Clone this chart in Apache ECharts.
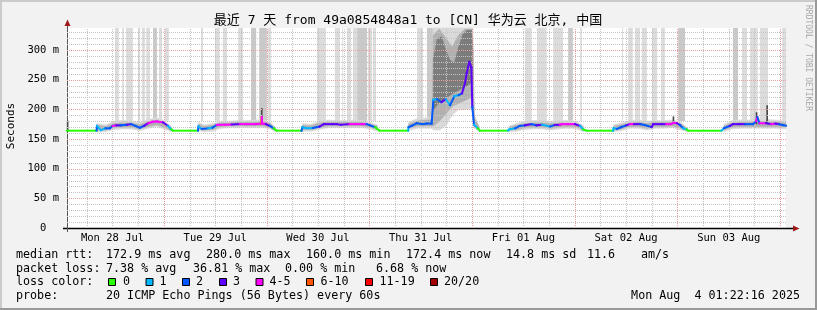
<!DOCTYPE html>
<html><head><meta charset="utf-8">
<script src="https://cdn.jsdelivr.net/npm/echarts@6/dist/echarts.min.js"></script>
<style>html,body{margin:0;padding:0;background:#f2f2f2}#c{width:817px;height:310px}</style>
</head><body><div id="c"></div>
<script>
// ---- axis / tick data (hours since start: Mon Jul 28 01:22:16) ----
const dayLabels = ['Mon 28 Jul','Tue 29 Jul','Wed 30 Jul','Thu 31 Jul','Fri 01 Aug','Sat 02 Aug','Sun 03 Aug'];
const dayNoonHours = [10.63, 34.63, 58.63, 82.63, 106.63, 130.63, 154.63];
const midnightHours = [22.63, 46.63, 70.63, 94.63, 118.63, 142.63, 166.63];
const sixHourLines = [4.63,10.63,16.63,28.63,34.63,40.63,52.63,58.63,64.63,76.63,82.63,88.63,100.63,106.63,112.63,124.63,130.63,136.63,148.63,154.63,160.63];
const yMajorLines = [50,100,150,200,250,300];
const yMinorLines = [10,20,30,40,60,70,80,90,110,120,130,140,160,170,180,190,210,220,230,240,260,270,280,290,310,320,330];

// ---- median rtt (ms) with loss class (0:0,1:1,2:2,3:3,4:4-5,5:6-10,6:11-19,7:20/20) ----
const medT = [0,6.9,7.0,7.9,9.0,10.0,10.7,11.5,12.5,14,15,16,17,18,19,20,21,22.4,23.6,24.4,24.8,
 30.6,30.7,31.5,33,34,35,35.5,37,38.5,40.4,42,44,45.4,45.5,45.6,46.5,47.4,48.3,49,
 54.8,55,56,57.5,59,60,62,63,64,66,67.5,69,70,70.8,72,73,
 79.7,79.8,80.5,81.7,83,84,85.2,85.6,86.5,87.5,88.5,89.5,90.5,91.5,92.3,93,93.4,94.0,94.5,94.7,95.1,96,96.5,
 103,103.3,104.7,105.8,107,108.5,109.7,111,112.9,114,115.2,115.6,117,118.7,119.9,120.6,121.4,
 127.6,127.7,128.5,129.5,130.7,131.5,132.5,134,135,136.6,137,139,140,141,141.7,142.5,143.2,144,144.8,145.2,
 152.9,153.5,154.9,155.6,157,158.5,160.3,161,161.3,161.8,163.3,164.5,165.5,166.4,167.2,168];
const medV = [164,164,172,165,168,168,172,173,173,174,175,172,169,172,176.5,179,179.5,178,172,166,164,
 164,171,167,168,169,173.6,174,174,174.5,175,175,175,176,187,176,175,172,168,164,
 164,169.7,168,168.5,171,175,175,175,174,175,175,175,175,173,170,164,
 164,170,172,176.5,175,176,176,216,217,212,217,207,222,224,227,244,261,280,270,204,174,168,164,
 164,166,168,172,173,175,173,174,171,173.6,174,175,175,175,172,166,164,
 164,168,167,170,173,175,175,175,173.6,170,175,175,175,175,177,176.5,173.6,168,166,164,
 164,168,172,175,175,175,175,180,187,176.5,176.5,175,176,175,173.6,172.4];
const medLoss = [0,0,2,1,1,2,2,4,3,2,3,2,2,2,3,4,4,4,3,1,0,
 0,2,1,2,1,2,4,4,4,3,4,4,4,5,4,4,3,2,0,
 0,2,1,1,2,3,3,3,3,3,4,4,4,2,2,0,
 0,1,2,2,2,2,2,2,1,2,3,1,2,1,2,3,3,3,3,3,2,1,0,
 0,1,1,2,2,3,2,3,1,2,3,4,4,4,3,1,0,
 0,1,1,2,2,3,4,3,2,2,3,3,3,4,4,4,3,2,1,0,
 0,1,2,3,3,3,2,2,4,2,4,3,4,3,2,2];
const lossColors = ['#26ff00','#00b8ff','#0059ff','#5e00ff','#ff00ff','#ff5500','#ff0000','#a10000'];
const lossLabels = ['0','1','2','3','4-5','6-10','11-19','20/20'];

// ---- smoke (ms) ----
const smokeT = [7,9,11,13,15,17,19,21,23,24.5,24.8,
 30.7,32,34,36,38,40,42,44,46,47.5,48.7,49,
 55,57,59,61,63,65,67,69,70.8,72.5,73,
 79.8,81.7,83,84.5,85.4,85.6,87,88.5,90,91.5,93,94.5,94.8,95.2,96.3,96.5,
 103.3,105,107,109,111,113,115,117,119,120.8,121.4,
 127.7,129.5,131.5,133.5,135.5,137.5,139.5,141.5,143.5,145,145.2,
 153.5,155.5,157.5,159.5,161.5,163.5,165.5,168];
const smokeOuterLo = [162,162,166,167,167,164,168,171,166,162,null,
 164,162,163,168,169,169,169,169,169,167,162,null,
 163,163,166,169,169,169,169,169,167,163,null,
 164,168,168,168,168,165,165,172,190,200,200,200,195,168,162,null,
 162,163,166,167,167,165,167,168,167,162,null,
 162,164,168,168,165,168,168,169,165,162,null,
 162,167,168,168,168,168,168,167];
const smokeOuterHi = [176,174,180,181,180,178,183,186,180,170,null,
 178,174,176,180,180,181,181,182,182,178,170,null,
 176,175,180,182,181,181,182,181,178,174,null,
 178,184,185,186,188,337,337,337,337,337,337,337,337,190,172,null,
 172,176,180,181,181,180,181,181,180,172,null,
 174,177,181,182,180,181,181,182,178,168,null,
 175,181,182,182,185,183,182,180];
const smokeInnerLo = [165,165,169,170,170,167,171,174,169,164,null,
 167,165,166,171,172,172,172,172,172,169,164,null,
 166,166,169,172,172,172,172,172,170,166,null,
 168,172,172,172,172,172,180,192,205,210,215,220,210,170,165,null,
 165,166,169,170,170,168,170,171,170,165,null,
 165,167,171,171,168,171,171,172,168,164,null,
 165,170,171,171,171,171,171,170];
const smokeInnerHi = [173,171,176,177,177,174,179,182,176,168,null,
 175,171,173,177,177,178,178,178,179,176,167,null,
 173,172,177,178,178,178,178,178,175,171,null,
 175,180,181,182,183,325,335,320,305,325,335,335,300,185,170,null,
 170,173,176,177,177,176,177,177,176,169,null,
 171,174,177,178,176,178,178,178,175,167,null,
 172,177,178,178,180,179,178,177];
const darkT  = [85.6,86.5,87.5,88.5,89.5,90.5,91.5,92.5,93.5,94.5,94.8];
const darkLo = [198,208,214,218,224,228,232,236,240,245,245];
const darkHi = [285,318,322,300,282,278,305,326,333,333,310];
const spikeT  = [0.15,45.5,141.7,161.1,163.6];
const spikeLo = [162,175,175,175,175];
const spikeHi = [181,202,188,195,207];

// ---- clipped smoke columns reaching the top ----
const stripeStart = [11.2,12.9,13.8,16.6,17.5,18.5,20.1,21.5,22.9,31.3,34.6,36.4,40.0,43.0,44.9,47.0,58.4,62.6,64.3,65.4,66.8,67.8,70.3,71.5,81.8,84.1,107.0,109.8,113.6,117.1,119.9,129.7,131.1,132.7,134.3,136.7,138.8,142.8,155.6,157.7,159.6,161.9,167.1];
const stripeEnd = [12.1,13.3,15.4,17.1,18.2,19.4,21.0,22.2,23.8,31.8,35.7,37.4,41.1,44.2,46.7,47.7,60.5,63.8,64.5,66.4,67.8,70.1,71.3,72.2,83.2,85.5,108.6,112.1,115.9,118.2,120.3,129.9,132.2,133.9,135.5,137.9,139.7,144.4,156.8,158.9,161.4,163.8,168];
const stripeShade = [0,0,0,0,0,0,1,0,0, 0,0,0,0,1,1,0, 0,0,0,0,0,1,0,0, 0,1, 0,0,0,1,0, 0,0,0,0,0,0,1, 1,0,0,0,0];
const STRIPE_BASE = 180;

const X_MIN = 0, X_MAX = 168, Y_MIN = 0, Y_MAX = 337;
const MONO = '"DejaVu Sans Mono", monospace';

function bandData(T, Lo, Hi){
  const out = [];
  for (let i = 0; i < T.length - 1; i++) {
    if (Lo[i] == null || Lo[i+1] == null) continue;
    out.push([T[i], T[i+1], Lo[i], Hi[i], Lo[i+1], Hi[i+1]]);
  }
  return out;
}
function bandSeries(data, color){
  return {type:'custom', coordinateSystem:'cartesian2d', data, silent:true, animation:false,
    encode:{x:[0,1], y:[2,3,4,5]},
    renderItem:(p, api) => {
      const a = api.coord([api.value(0), api.value(2)]), b = api.coord([api.value(1), api.value(4)]),
            c = api.coord([api.value(1), api.value(5)]), d = api.coord([api.value(0), api.value(3)]);
      return {type:'polygon', shape:{points:[a,b,c,d]}, style:{fill:color, stroke:color, lineWidth:0.6}};
    }};
}
function hLines(vals, color){
  return {type:'custom', coordinateSystem:'cartesian2d', data:vals.map(v=>[v]), silent:true, animation:false,
    encode:{y:0},
    renderItem:(p, api) => {
      const a = api.coord([X_MIN, api.value(0)]), b = api.coord([X_MAX, api.value(0)]);
      const y = Math.round(a[1]) + 0.5;
      return {type:'line', shape:{x1:a[0], y1:y, x2:b[0], y2:y}, style:{stroke:color, lineWidth:1, lineDash:[1,1]}};
    }};
}
function vLines(vals, color){
  return {type:'custom', coordinateSystem:'cartesian2d', data:vals.map(v=>[v]), silent:true, animation:false,
    encode:{x:0},
    renderItem:(p, api) => {
      const a = api.coord([api.value(0), Y_MIN]), b = api.coord([api.value(0), Y_MAX]);
      const x = Math.round(a[0]) + 0.5;
      return {type:'line', shape:{x1:x, y1:a[1], x2:x, y2:b[1]}, style:{stroke:color, lineWidth:1, lineDash:[1,1]}};
    }};
}

const stripeData = stripeStart.map((s,i)=>[s, stripeEnd[i], stripeShade[i]]);
const medData = [];
for (let i = 0; i < medT.length - 1; i++) medData.push([medT[i], medT[i+1], medV[i], medV[i+1], medLoss[i+1]]);
const spikeData = spikeT.map((t,i)=>[t, spikeLo[i], spikeHi[i]]);

const chart = echarts.init(document.getElementById('c'), null, {renderer:'canvas'});
const textEl = (text, x, y, opts={}) => ({type:'text', x, y, silent:true, rotation: opts.rotation || 0,
  style:{text, font: (opts.size||11.7)+'px '+MONO+(opts.cjk?', "Noto Sans CJK SC"':''), fill: opts.color||'#000',
    textAlign: opts.align||'left', textVerticalAlign:'middle'}});

const footer = [
  textEl('median rtt:', 16, 255), textEl('172.9 ms avg', 106, 255), textEl('280.0 ms max', 206, 255),
  textEl('160.0 ms min', 306, 255), textEl('172.4 ms now', 406, 255), textEl('14.8 ms sd', 506, 255),
  textEl('11.6', 587, 255), textEl('am/s', 641, 255),
  textEl('packet loss:', 16, 268.5), textEl('7.38 % avg', 106, 268.5), textEl('36.81 % max', 193, 268.5),
  textEl('0.00 % min', 285, 268.5), textEl('6.68 % now', 376, 268.5),
  textEl('loss color:', 16, 282.3),
  textEl('probe:', 16, 296), textEl('20 ICMP Echo Pings (56 Bytes) every 60s', 106, 296),
  textEl('Mon Aug  4 01:22:16 2025', 800, 296, {align:'right'})
];
const legendSqX = [108.5,146,182.5,219.5,256,306.5,365.5,430.5];
const legendTxX = [123,159.5,196,233,269.5,320.5,379.5,444];
lossLabels.forEach((l,i)=>{
  footer.push({type:'rect', silent:true, shape:{x:legendSqX[i], y:278.5, width:7, height:7}, style:{fill:lossColors[i], stroke:'#000', lineWidth:1}});
  footer.push(textEl(l, legendTxX[i], 282.3));
});

const decor = [
  {type:'rect', silent:true, shape:{x:0,y:0,width:817,height:2}, style:{fill:'#cbcbcb'}},
  {type:'rect', silent:true, shape:{x:0,y:0,width:2,height:310}, style:{fill:'#cbcbcb'}},
  {type:'rect', silent:true, shape:{x:0,y:308,width:817,height:2}, style:{fill:'#999'}},
  {type:'rect', silent:true, shape:{x:815,y:0,width:2,height:310}, style:{fill:'#999'}},
  {type:'line', silent:true, shape:{x1:63, y1:228.5, x2:794, y2:228.5}, style:{stroke:'#000', lineWidth:1.5}},
  {type:'line', silent:true, shape:{x1:67.5, y1:232, x2:67.5, y2:25}, style:{stroke:'#555', lineWidth:1}},
  {type:'polygon', silent:true, shape:{points:[[64.5,26],[70.5,26],[67.5,19.5]]}, style:{fill:'#a01818'}},
  {type:'polygon', silent:true, shape:{points:[[793,225.5],[793,231.5],[799.5,228.5]]}, style:{fill:'#a01818'}},
  textEl('最近 7 天 from 49a0854848a1 to [CN] 华为云 北京, 中国', 408, 21, {size:13, align:'center', cjk:true}),
  textEl('Seconds', 11, 126, {size:11, align:'center', rotation:Math.PI/2}),
  textEl('RRDTOOL / TOBI OETIKER', 808, 5, {size:8, color:'#a8a8a8', rotation:-Math.PI/2})
];

chart.setOption({
  animation:false,
  backgroundColor:'#f2f2f2',
  grid:{left:67, top:28, width:719, height:200, show:true, backgroundColor:'#fff', borderWidth:0, containLabel:false},
  xAxis:{type:'value', min:X_MIN, max:X_MAX, axisLine:{show:false}, axisTick:{show:false}, splitLine:{show:false},
    axisLabel:{customValues: dayNoonHours, margin:5, color:'#000', fontFamily:MONO, fontSize:10.5,
      formatter:(v)=>{ const i = dayNoonHours.findIndex(h=>Math.abs(h-v)<0.01); return i>=0?dayLabels[i]:''; }}},
  yAxis:{type:'value', min:Y_MIN, max:Y_MAX, interval:50, axisLine:{show:false}, axisTick:{show:false}, splitLine:{show:false},
    axisLabel:{margin:8, color:'#000', fontFamily:MONO, fontSize:10.5, showMaxLabel:false,
      formatter:(v)=> v===0 ? '0  ' : (v%50===0 ? v+' m' : '')}},
  series:[
    {type:'custom', coordinateSystem:'cartesian2d', data:stripeData, silent:true, animation:false, encode:{x:[0,1]},
      renderItem:(p, api)=>{
        const a = api.coord([api.value(0), Y_MAX]), b = api.coord([api.value(1), STRIPE_BASE]);
        return {type:'rect', shape:{x:a[0], y:a[1], width:Math.max(1, b[0]-a[0]), height:b[1]-a[1]},
          style:{fill: api.value(2) ? '#c9c9c9' : '#dcdcdc'}};
      }},
    bandSeries(bandData(smokeT, smokeOuterLo, smokeOuterHi), '#d9d9d9'),
    bandSeries(bandData(smokeT, smokeInnerLo, smokeInnerHi), '#b0b0b0'),
    bandSeries(bandData(darkT, darkLo, darkHi), '#7c7c7c'),
    {type:'custom', coordinateSystem:'cartesian2d', data:spikeData, silent:true, animation:false, encode:{x:0, y:[1,2]},
      renderItem:(p, api)=>{
        const a = api.coord([api.value(0), api.value(1)]), b = api.coord([api.value(0), api.value(2)]);
        return {type:'line', shape:{x1:a[0], y1:a[1], x2:b[0], y2:b[1]}, style:{stroke:'#444', lineWidth:1.6}};
      }},
    hLines(yMinorLines, '#c4c4c4'),
    vLines(sixHourLines, '#c4c4c4'),
    hLines(yMajorLines, '#eba0a0'),
    vLines(midnightHours, '#eba0a0'),
    {type:'custom', coordinateSystem:'cartesian2d', data:medData, silent:true, animation:false, encode:{x:[0,1], y:[2,3]},
      renderItem:(p, api)=>{
        const a = api.coord([api.value(0), api.value(2)]), b = api.coord([api.value(1), api.value(3)]);
        return {type:'line', shape:{x1:a[0], y1:a[1], x2:b[0], y2:b[1]},
          style:{stroke: lossColors[api.value(4)], lineWidth:2, lineCap:'square'}};
      }}
  ],
  graphic: decor.concat(footer)
});
</script></body></html>
